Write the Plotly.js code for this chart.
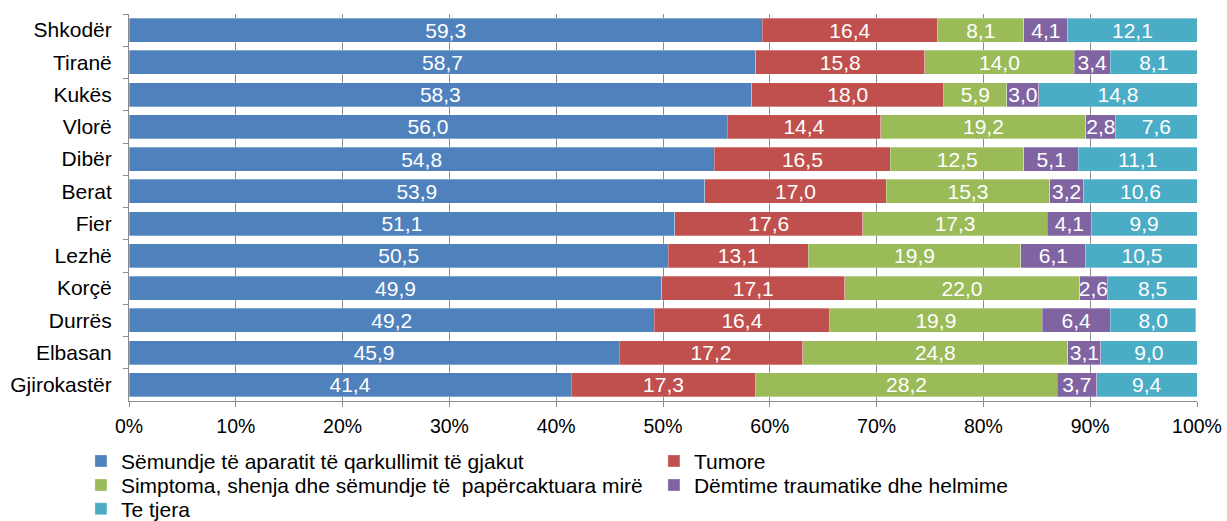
<!DOCTYPE html>
<html><head><meta charset="utf-8">
<script src="https://cdn.plot.ly/plotly-3.0.1.min.js"></script>
<style>html,body{margin:0;padding:0;background:#fff}</style>
</head><body>
<div id="chart" style="width:1227px;height:521px"></div>
<script>
const regions = ["Shkodër","Tiranë","Kukës","Vlorë","Dibër","Berat","Fier","Lezhë","Korçë","Durrës","Elbasan","Gjirokastër"];
const seriesNames = ["Sëmundje të aparatit të qarkullimit të gjakut","Tumore","Simptoma, shenja dhe sëmundje të  papërcaktuara mirë","Dëmtime traumatike dhe helmime","Te tjera"];
const circulatory = [59.3,58.7,58.3,56.0,54.8,53.9,51.1,50.5,49.9,49.2,45.9,41.4];
const tumors      = [16.4,15.8,18.0,14.4,16.5,17.0,17.6,13.1,17.1,16.4,17.2,17.3];
const symptoms    = [8.1,14.0,5.9,19.2,12.5,15.3,17.3,19.9,22.0,19.9,24.8,28.2];
const injuries    = [4.1,3.4,3.0,2.8,5.1,3.2,4.1,6.1,2.6,6.4,3.1,3.7];
const others      = [12.1,8.1,14.8,7.6,11.1,10.6,9.9,10.5,8.5,8.0,9.0,9.4];
const colors = ["#4F81BD","#C0504D","#9BBB59","#8064A2","#4BACC6"];
const legendRows = ["legend","legend","legend2","legend2","legend3"];
const xTickVals = [0,10,20,30,40,50,60,70,80,90,100];
const xTickText = ["0%","10%","20%","30%","40%","50%","60%","70%","80%","90%","100%"];

const FONT = "'Liberation Sans', Arial, sans-serif";
const allSeries = [circulatory, tumors, symptoms, injuries, others];
const traces = allSeries.map((vals, i) => ({
  type: "bar",
  orientation: "h",
  name: seriesNames[i],
  legend: legendRows[i],
  y: regions,
  x: vals,
  marker: {color: colors[i], line: {color: "rgba(255,255,255,0.6)", width: 0.5}},
  texttemplate: "%{x:.1f}",
  textposition: "inside",
  insidetextanchor: "middle",
  textfont: {color: "#ffffff", size: 21, family: FONT},
  hoverinfo: "x+y+name"
}));

function legendAt(y, ew) {
  return {
    orientation: "h",
    x: -0.045, xanchor: "left",
    y: y, yanchor: "top",
    traceorder: "normal",
    font: {size: 21, family: FONT, color: "#000"},
    entrywidth: ew,
    entrywidthmode: "pixels",
    itemwidth: 30,
    tracegroupgap: 0,
    bgcolor: "rgba(0,0,0,0)"
  };
}

const layout = {
  width: 1227, height: 521,
  margin: {l: 129, r: 30, t: 14, b: 120, autoexpand: false},
  barmode: "stack",
  bargap: 0.256,
  separators: ", ",
  paper_bgcolor: "#fff",
  plot_bgcolor: "#fff",
  font: {family: FONT, size: 20, color: "#000"},
  uniformtext: {minsize: 21, mode: "show"},
  xaxis: {
    range: [0, 100],
    tickvals: xTickVals,
    ticktext: xTickText,
    showgrid: true,
    gridcolor: "#8c8c8c",
    gridwidth: 1,
    zeroline: false,
    showline: true,
    linecolor: "#8c8c8c",
    ticks: "outside",
    ticklen: 5,
    tickcolor: "#8c8c8c",
    tickfont: {size: 19.5, family: FONT, color: "#000"},
    ticklabelstandoff: 3,
    fixedrange: true
  },
  yaxis: {
    type: "category",
    autorange: "reversed",
    showline: true,
    linecolor: "#8c8c8c",
    ticks: "outside",
    ticklen: 5,
    tickcolor: "#8c8c8c",
    tickson: "boundaries",
    showgrid: false,
    tickfont: {size: 21, family: FONT, color: "#000"},
    ticklabelstandoff: 12,
    fixedrange: true
  },
  showlegend: true,
  legend: legendAt(-0.1028, 528),
  legend2: legendAt(-0.1649, 528),
  legend3: legendAt(-0.2264, 528)
};

Plotly.newPlot("chart", traces, layout, {displayModeBar: false, staticPlot: true});
</script>
</body></html>
